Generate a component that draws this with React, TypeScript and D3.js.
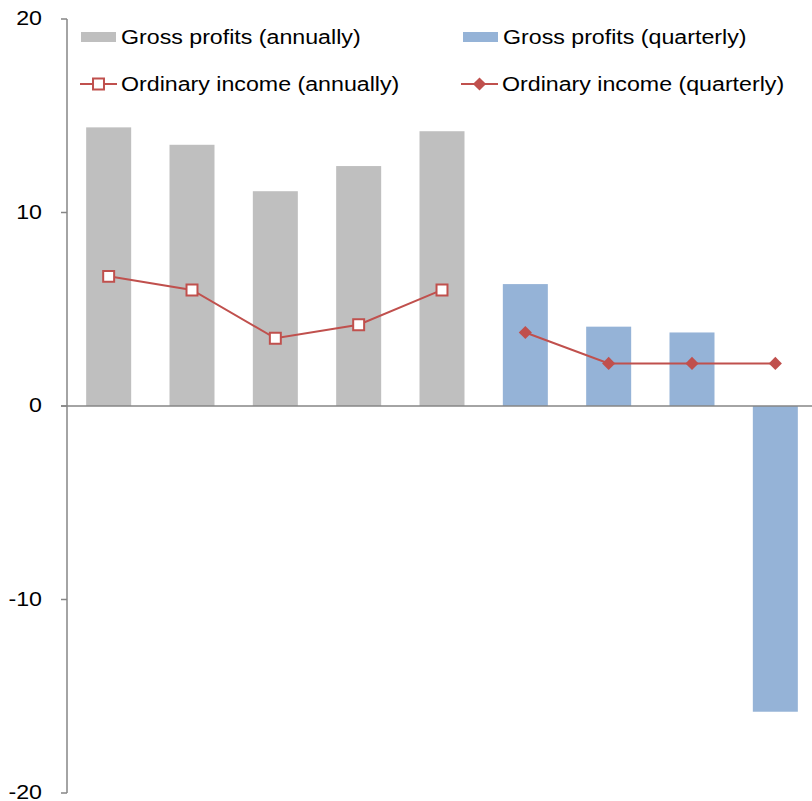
import React, { useRef, useEffect } from "react";
import * as d3 from "d3";

const categories = ["A1", "A2", "A3", "A4", "A5", "Q1", "Q2", "Q3", "Q4"];
const grossAnnual = [14.4, 13.5, 11.1, 12.4, 14.2];
const grossQuarterly = [6.3, 4.1, 3.8, -15.8];
const ordinaryAnnual = [6.7, 6.0, 3.5, 4.2, 6.0];
const ordinaryQuarterly = [3.8, 2.2, 2.2, 2.2];
const yTicks = [-20, -10, 0, 10, 20];

const GRAY = "#BFBFBF";
const BLUE = "#95B3D7";
const RED = "#C0504D";
const AXIS = "#868686";
const FONT = "'Liberation Sans', Arial, sans-serif";
const SX = 1.16; // text in the source is slightly stretched horizontally

const App: React.FC = () => {
  const svgRef = useRef(null);

  useEffect(() => {
    if (!svgRef.current) return;
    const svg = d3.select(svgRef.current);
    svg.selectAll("*").remove();

    const x = d3
      .scaleBand()
      .domain(categories)
      .range([67, 817])
      .paddingInner(0.46)
      .paddingOuter(0.23);
    const y = d3.scaleLinear().domain([-20, 20]).range([793, 19]);

    const annualCats = categories.slice(0, 5);
    const quarterCats = categories.slice(5);

    // bars
    const drawBars = (cats: string[], vals: number[], color: string) => {
      svg
        .append("g")
        .selectAll("rect")
        .data(vals)
        .enter()
        .append("rect")
        .attr("x", (_, i) => x(cats[i])!)
        .attr("width", x.bandwidth())
        .attr("y", (d) => y(Math.max(0, d)))
        .attr("height", (d) => Math.abs(y(d) - y(0)))
        .attr("fill", color);
    };
    drawBars(annualCats, grossAnnual, GRAY);
    drawBars(quarterCats, grossQuarterly, BLUE);

    // axes
    const cx = (c: string) => x(c)! + x.bandwidth() / 2;
    svg
      .append("line")
      .attr("x1", 61)
      .attr("x2", 812)
      .attr("y1", y(0))
      .attr("y2", y(0))
      .attr("stroke", AXIS)
      .attr("stroke-width", 1.5);
    svg
      .append("line")
      .attr("x1", 67)
      .attr("x2", 67)
      .attr("y1", y(20))
      .attr("y2", y(-20))
      .attr("stroke", AXIS)
      .attr("stroke-width", 1.5);
    const ticks = svg.append("g");
    yTicks.forEach((t) => {
      ticks
        .append("line")
        .attr("x1", 61)
        .attr("x2", 67)
        .attr("y1", y(t))
        .attr("y2", y(t))
        .attr("stroke", AXIS)
        .attr("stroke-width", 1.5);
      ticks
        .append("text")
        .attr("transform", `translate(42,${y(t) - 1}) scale(${SX},1)`)
        .attr("dy", "0.35em")
        .attr("text-anchor", "end")
        .attr("font-family", FONT)
        .attr("font-size", 20)
        .attr("fill", "#000")
        .text(t);
    });

    // lines
    const line = d3
      .line<[number, number]>()
      .x((d) => d[0])
      .y((d) => d[1]);
    const annualPts: [number, number][] = ordinaryAnnual.map((v, i) => [cx(annualCats[i]), y(v)]);
    const quarterPts: [number, number][] = ordinaryQuarterly.map((v, i) => [cx(quarterCats[i]), y(v)]);
    [annualPts, quarterPts].forEach((pts) => {
      svg
        .append("path")
        .attr("d", line(pts))
        .attr("fill", "none")
        .attr("stroke", RED)
        .attr("stroke-width", 2);
    });

    const square = d3.symbol().type(d3.symbolSquare).size(120);
    const diamond = d3.symbol().type(d3.symbolDiamond2).size(110);

    svg
      .append("g")
      .selectAll("path")
      .data(annualPts)
      .enter()
      .append("path")
      .attr("d", square)
      .attr("transform", (d) => `translate(${d[0]},${d[1]})`)
      .attr("fill", "#fff")
      .attr("stroke", RED)
      .attr("stroke-width", 2);
    svg
      .append("g")
      .selectAll("path")
      .data(quarterPts)
      .enter()
      .append("path")
      .attr("d", diamond)
      .attr("transform", (d) => `translate(${d[0]},${d[1]})`)
      .attr("fill", RED);

    // legend
    const legend = svg.append("g").attr("font-family", FONT).attr("font-size", 20);
    const items = [
      { label: "Gross profits (annually)", type: "bar", color: GRAY, x: 81, y: 37 },
      { label: "Gross profits (quarterly)", type: "bar", color: BLUE, x: 463, y: 37 },
      { label: "Ordinary income (annually)", type: "square", color: RED, x: 81, y: 84 },
      { label: "Ordinary income (quarterly)", type: "diamond", color: RED, x: 462, y: 84 },
    ];
    items.forEach((it) => {
      const g = legend.append("g");
      if (it.type === "bar") {
        g.append("rect")
          .attr("x", it.x)
          .attr("y", it.y - 5)
          .attr("width", 35)
          .attr("height", 10)
          .attr("fill", it.color);
      } else {
        g.append("line")
          .attr("x1", it.x - 1)
          .attr("x2", it.x + 36)
          .attr("y1", it.y)
          .attr("y2", it.y)
          .attr("stroke", it.color)
          .attr("stroke-width", 2);
        g.append("path")
          .attr("d", it.type === "square" ? square : diamond)
          .attr("transform", `translate(${it.x + 17.5},${it.y})`)
          .attr("fill", it.type === "square" ? "#fff" : it.color)
          .attr("stroke", it.type === "square" ? it.color : "none")
          .attr("stroke-width", 2);
      }
      g.append("text")
        .attr("transform", `translate(${it.x + 40},${it.y}) scale(${SX},1)`)
        .attr("dy", "0.35em")
        .attr("fill", "#000")
        .text(it.label);
    });
  }, []);

  return (
    <svg
      ref={svgRef}
      width={812}
      height={801}
      style={{ position: "absolute", left: 0, top: 0, background: "#fff" }}
    ></svg>
  );
};

export default App;
